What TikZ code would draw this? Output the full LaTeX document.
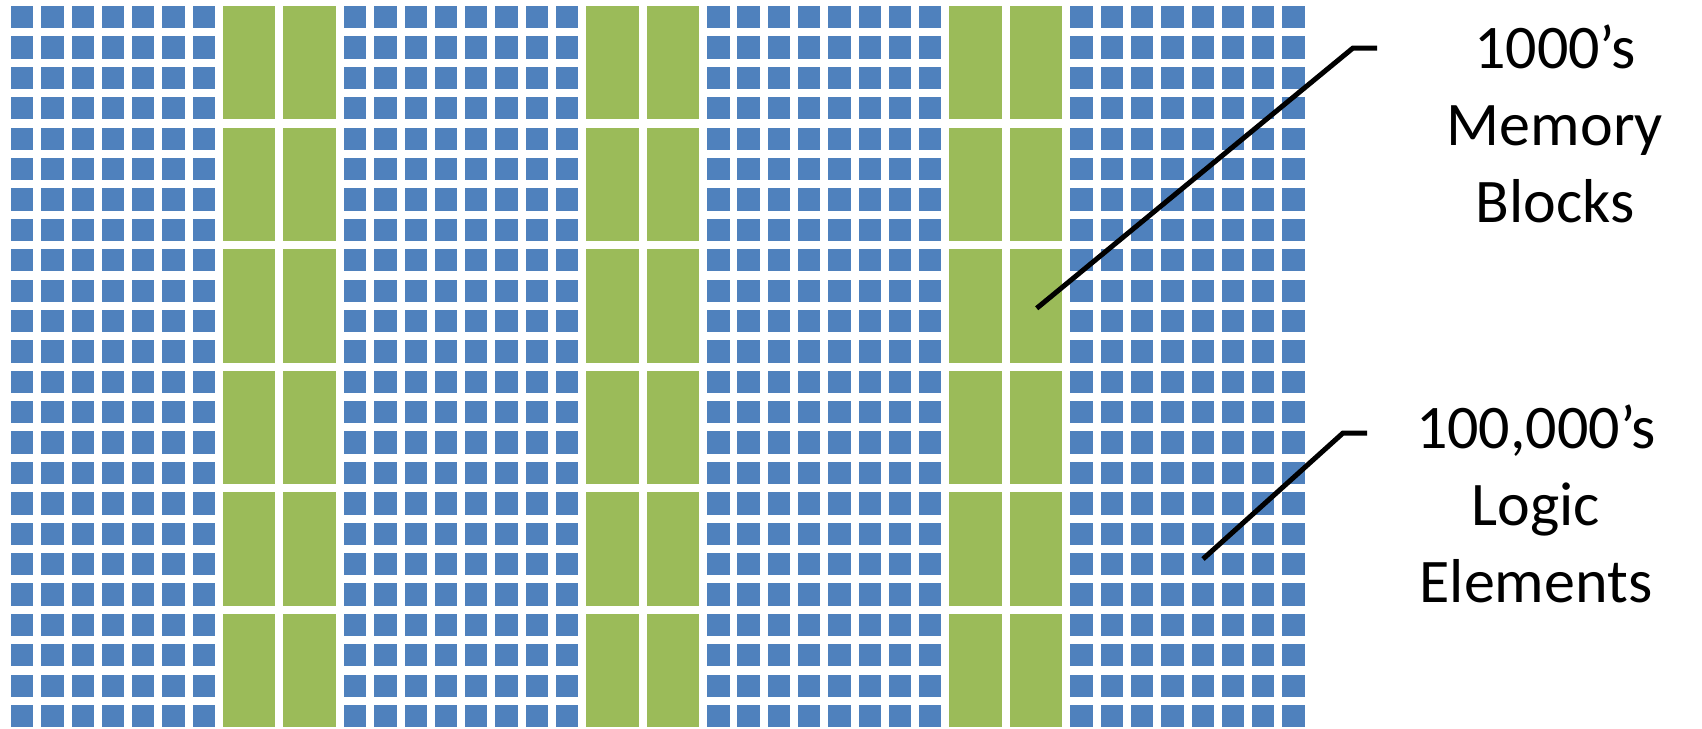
\documentclass[tikz,border=0pt]{standalone}
\usepackage{fontspec}
\setmainfont{Carlito}
\definecolor{leblue}{HTML}{4F81BD}
\definecolor{memgreen}{HTML}{9BBB59}
\begin{document}
\begin{tikzpicture}[x=0.5pt,y=-0.5pt,
  logic/.style={fill=leblue,draw=none},
  mem/.style={fill=memgreen,draw=none},
  leader/.style={draw=black,line width=2.5pt},
  label/.style={font=\fontsize{31}{38.5}\selectfont,align=center,inner sep=0pt,anchor=base}]
\useasboundingbox (0,0) rectangle (1702,728);
\def\px{30.27}\def\py{30.39}\def\sq{22.3}
% logic elements
\foreach \c in {0,...,6,11,12,...,18,23,24,...,30,35,36,...,42}{
  \foreach \r in {0,...,23}{
    \fill[logic] ({11+\c*\px},{6+\r*\py}) rectangle ++(\sq,\sq);
  }
}
% memory blocks
\foreach \c in {7,9,19,21,31,33}{
  \foreach \k in {0,...,5}{
    \fill[mem] ({11+\c*\px},{6+4*\k*\py}) rectangle ++({\px+\sq},{3*\py+\sq});
  }
}
% labels (base anchor = baseline of last line)
\node[label] (memlabel) at (1555,222) {1000’s\\Memory\\Blocks};
\node[label] (logiclabel) at (1536,602) {100,000’s\\Logic\\Elements};
% leaders
\coordinate (m1) at (1377,48);
\coordinate (m2) at (1353,48);
\coordinate (m3) at (1036.7,308.3);
\coordinate (l1) at (1367,433);
\coordinate (l2) at (1343,433);
\coordinate (l3) at (1203,559);
\draw[leader] (m1) -- (m2) -- (m3);
\draw[leader] (l1) -- (l2) -- (l3);
\end{tikzpicture}
\end{document}
